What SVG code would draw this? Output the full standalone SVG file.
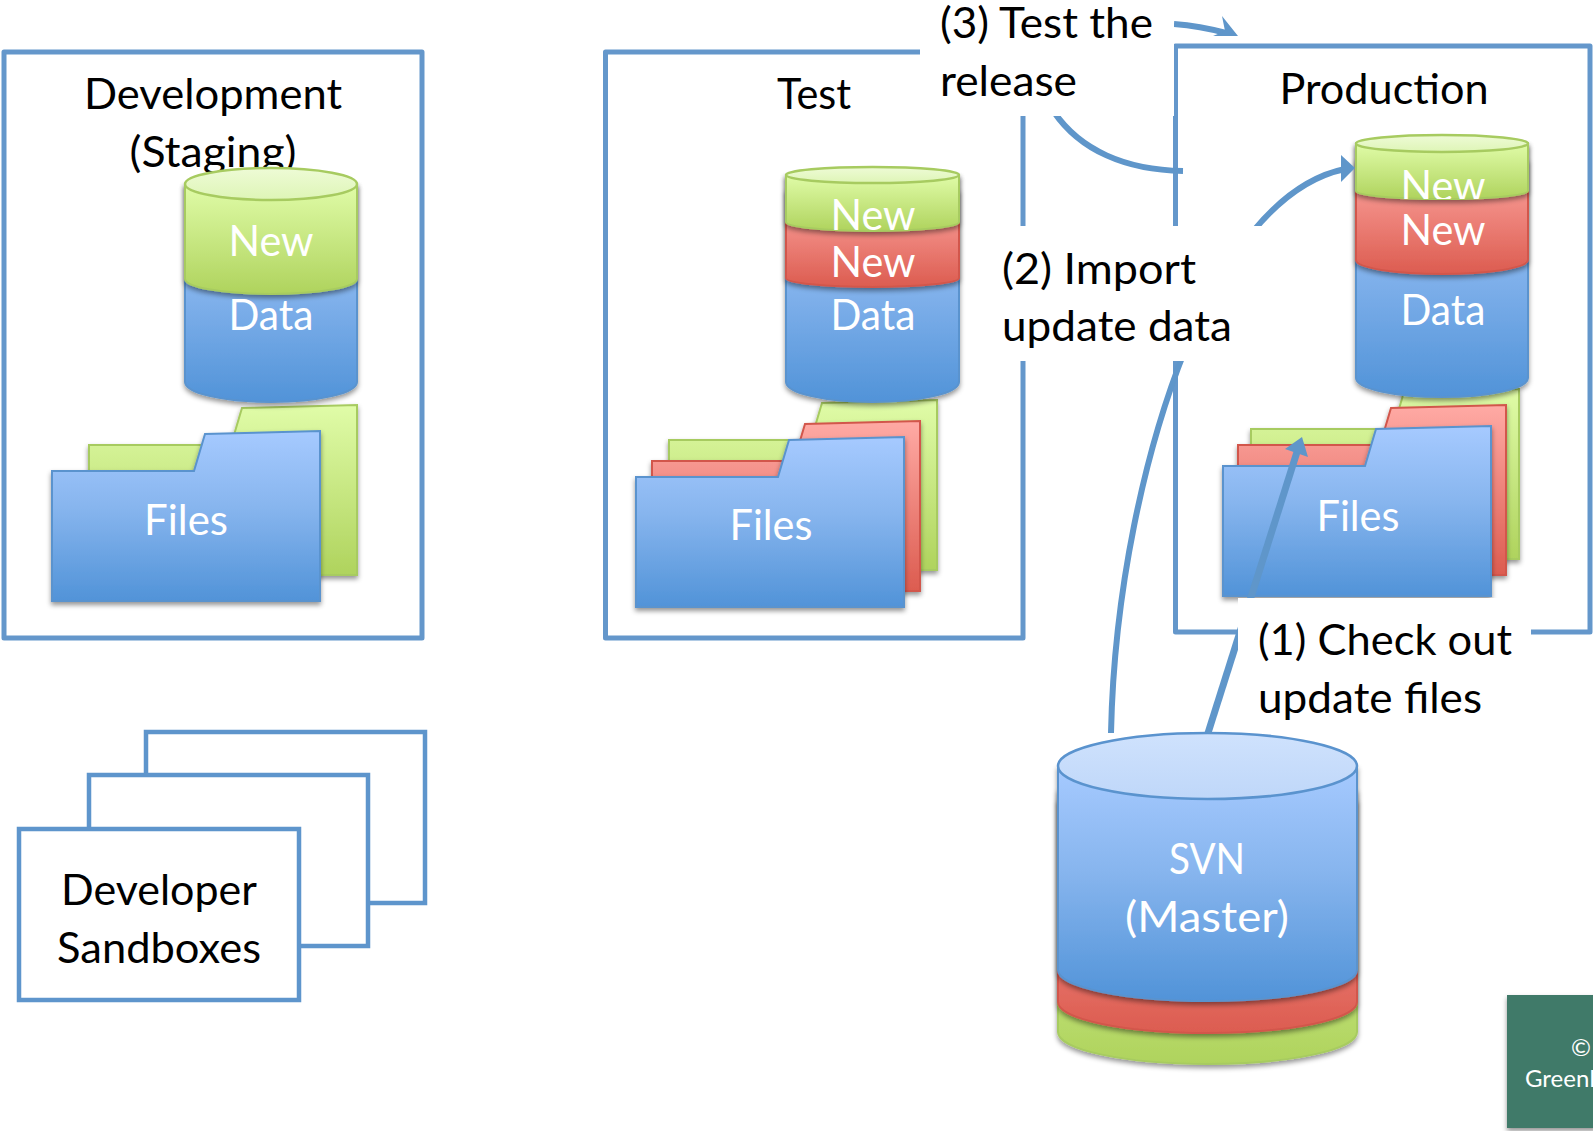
<svg xmlns="http://www.w3.org/2000/svg" width="1593" height="1131" viewBox="0 0 1593 1131">
<style>
text{font-family:Lato,"Liberation Sans",sans-serif;font-size:43px}
.c{text-anchor:middle}
.k{fill:#000}
.w{fill:#fff}
.fr{fill:#fff;stroke:#6497cb;stroke-width:5;stroke-linejoin:round}
.sb{fill:#fff;stroke:#5e95cc;stroke-width:4.500}
.mask{fill:#fff}
.b{fill:url(#gb);stroke:#5a93ce;stroke-width:2;filter:url(#sh)}
.r{fill:url(#gr);stroke:#d2574c;stroke-width:2;filter:url(#sh)}
.g{fill:url(#gg);stroke:#a7cb60;stroke-width:2;filter:url(#sh)}
.lg{fill:url(#glg);stroke:#a7cb60;stroke-width:2.500}
.lb{fill:url(#glb);stroke:#5a93ce;stroke-width:2.500}
.con{fill:none;stroke:#5f96ca;stroke-width:6}
.head{fill:#5f96ca}
</style>
<defs>
<filter id="sh" x="-10%" y="-10%" width="120%" height="125%"><feDropShadow dx="0" dy="3" stdDeviation="2.500" flood-color="#000" flood-opacity=".42"/></filter>
<linearGradient id="gb" x1="0" y1="0" x2="0" y2="1"><stop offset="0" stop-color="#a6caff"/><stop offset=".45" stop-color="#87b5ee"/><stop offset="1" stop-color="#5193d8"/></linearGradient>
<linearGradient id="gr" x1="0" y1="0" x2="0" y2="1"><stop offset="0" stop-color="#ffaaa5"/><stop offset="1" stop-color="#dc5c50"/></linearGradient>
<linearGradient id="gg" x1="0" y1="0" x2="0" y2="1"><stop offset="0" stop-color="#e0fca8"/><stop offset="1" stop-color="#afd35d"/></linearGradient>
<linearGradient id="glg" x1="0" y1="0" x2="0" y2="1"><stop offset="0" stop-color="#eefbd6"/><stop offset="1" stop-color="#def5b6"/></linearGradient>
<linearGradient id="glb" x1="0" y1="0" x2="0" y2="1"><stop offset="0" stop-color="#cfe2fd"/><stop offset="1" stop-color="#bfd7f9"/></linearGradient>
<clipPath id="prodnew"><rect x="1355" y="150" width="173" height="49"/></clipPath>
<path id="folder" d="M0 0H142L153 -37L268 -40V130H0Z"/>
</defs>

<g id="development">
<rect class="fr" x="4" y="52" width="418" height="586"/>
<text class="c k" x="213" y="109" textLength="258" lengthAdjust="spacingAndGlyphs">Development</text>
<text class="c k" x="213" y="167" textLength="167" lengthAdjust="spacingAndGlyphs">(Staging)</text>
<use href="#folder" x="89" y="445" class="g"/>
<use href="#folder" x="52" y="471" class="b"/>
<text class="c w" x="186" y="535" textLength="84" lengthAdjust="spacingAndGlyphs">Files</text>
<path class="b" d="M185 184V382A86 20 0 0 0 357 382V184Z"/>
<path class="g" d="M185 184V279A86 15 0 0 0 357 279V184Z"/>
<ellipse class="lg" cx="271" cy="184" rx="86" ry="16"/>
<text class="c w" x="271" y="256" textLength="85" lengthAdjust="spacingAndGlyphs">New</text>
<text class="c w" x="271" y="330" textLength="85" lengthAdjust="spacingAndGlyphs">Data</text>
</g>

<g id="test">
<rect class="fr" x="605.500" y="52" width="417.500" height="586"/>
<text class="c k" x="814" y="109" textLength="74" lengthAdjust="spacingAndGlyphs">Test</text>
<use href="#folder" x="669" y="440" class="g"/>
<use href="#folder" x="652" y="461" class="r"/>
<use href="#folder" x="636" y="477" class="b"/>
<text class="c w" x="771" y="540" textLength="83" lengthAdjust="spacingAndGlyphs">Files</text>
<path class="b" d="M786 175V382A86.500 20 0 0 0 959 382V175Z"/>
<path class="r" d="M786 190V278A86.500 9 0 0 0 959 278V190Z"/>
<path class="g" d="M786 175V222A86.500 9 0 0 0 959 222V175Z"/>
<ellipse class="lg" cx="872.500" cy="175" rx="86.500" ry="8"/>
<text class="c w" x="873" y="230" textLength="85" lengthAdjust="spacingAndGlyphs">New</text>
<text class="c w" x="873" y="277" textLength="85" lengthAdjust="spacingAndGlyphs">New</text>
<text class="c w" x="873" y="330" textLength="85" lengthAdjust="spacingAndGlyphs">Data</text>
</g>

<g id="production">
<rect class="fr" x="1175.500" y="46" width="414.500" height="586"/>
<text class="c k" x="1384" y="104" textLength="209" lengthAdjust="spacingAndGlyphs">Production</text>
<use href="#folder" x="1251" y="429" class="g"/>
<use href="#folder" x="1238" y="445" class="r"/>
<use href="#folder" x="1223" y="466" class="b"/>
<text class="c w" x="1358" y="531" textLength="83" lengthAdjust="spacingAndGlyphs">Files</text>
<path class="b" d="M1356 143.500V378A86 19 0 0 0 1528 378V143.500Z"/>
<path class="r" d="M1356 160V260A86 14 0 0 0 1528 260V160Z"/>
<path class="g" d="M1356 143.500V191A86 8 0 0 0 1528 191V143.500Z"/>
<ellipse class="lg" cx="1442" cy="143.500" rx="86" ry="8.500"/>
<text class="c w" x="1443" y="201" textLength="85" lengthAdjust="spacingAndGlyphs" clip-path="url(#prodnew)">New</text>
<text class="c w" x="1443" y="245" textLength="85" lengthAdjust="spacingAndGlyphs">New</text>
<text class="c w" x="1443" y="325" textLength="85" lengthAdjust="spacingAndGlyphs">Data</text>
</g>

<g id="sandboxes">
<rect class="sb" x="146" y="732" width="279" height="171"/>
<rect class="sb" x="89" y="775" width="279" height="171"/>
<rect class="sb" x="19" y="829" width="280" height="171"/>
<text class="c k" x="159" y="905" textLength="196" lengthAdjust="spacingAndGlyphs">Developer</text>
<text class="c k" x="159" y="963" textLength="204" lengthAdjust="spacingAndGlyphs">Sandboxes</text>
</g>

<g id="svn">
<path class="g" d="M1058 800V1032A149.500 32 0 0 0 1357 1032V800Z"/>
<path class="r" d="M1058 790V1002A149.500 31 0 0 0 1357 1002V790Z"/>
<path class="b" d="M1058 766V970A149.500 31 0 0 0 1357 970V766Z"/>
<ellipse class="lb" cx="1207.500" cy="766" rx="149.500" ry="33"/>
<text class="c w" x="1207" y="874" textLength="76" lengthAdjust="spacingAndGlyphs">SVN</text>
<text class="c w" x="1207" y="932" textLength="164" lengthAdjust="spacingAndGlyphs">(Master)</text>
</g>

<g id="connectors">
<path class="con" d="M1208 733L1297 452" style="stroke-width:7"/>
<polygon class="head" points="1302,437 1308,457 1285,449"/>
<path class="con" d="M1111 733C1114 590 1145 450 1185 350C1217 275 1268 185 1345 169"/>
<polygon class="head" points="1355,168 1341,155 1341,182"/>
<path class="con" d="M1054 112C1080 150 1125 170 1183 171"/>
<path class="con" d="M1174 24Q1200 26 1226 33"/>
<polygon class="head" points="1238,36 1222,16 1225,31 1213,36"/>
</g>

<g id="label-3">
<rect class="mask" x="920" y="0" width="254" height="116"/>
<text class="k" x="940" y="38" textLength="213" lengthAdjust="spacingAndGlyphs">(3) Test the</text>
<text class="k" x="940" y="96" textLength="137" lengthAdjust="spacingAndGlyphs">release</text>
</g>
<g id="label-2">
<rect class="mask" x="982" y="226" width="280" height="135"/>
<text class="k" x="1002" y="284" textLength="194" lengthAdjust="spacingAndGlyphs">(2) Import</text>
<text class="k" x="1002" y="341" textLength="230" lengthAdjust="spacingAndGlyphs">update data</text>
</g>
<g id="label-1">
<rect class="mask" x="1238" y="598" width="293" height="134"/>
<text class="k" x="1258" y="655" textLength="254" lengthAdjust="spacingAndGlyphs">(1) Check out</text>
<text class="k" x="1258" y="713" textLength="224" lengthAdjust="spacingAndGlyphs">update files</text>
</g>

<g id="copyright">
<rect x="1507" y="995" width="90" height="133" fill="#417a69" filter="url(#sh)"/>
<text class="w" x="1571" y="1056" style="font-size:24px">©</text>
<text class="w" x="1525" y="1087" style="font-size:24px">GreenB</text>
</g>
</svg>
